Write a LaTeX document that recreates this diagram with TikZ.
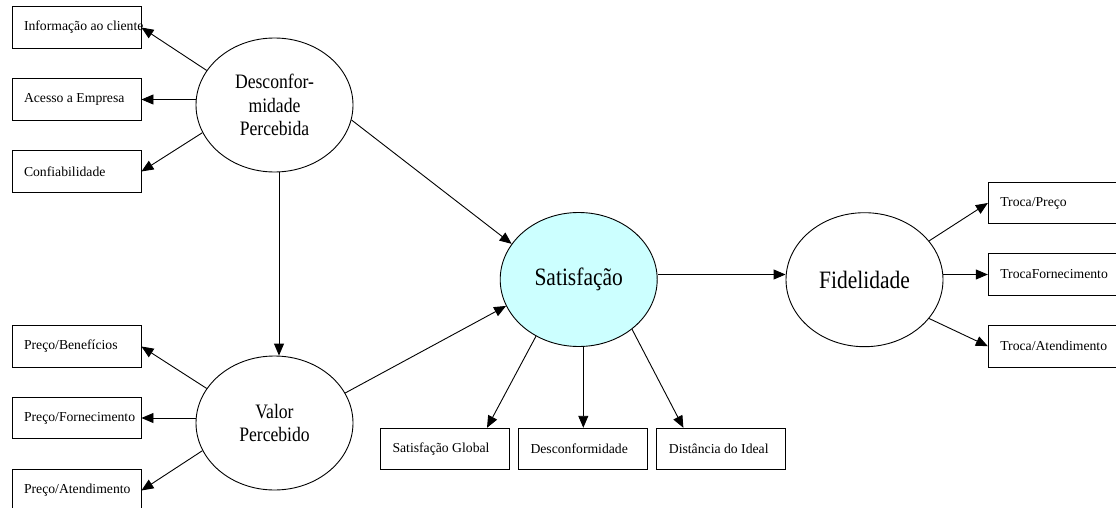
\documentclass[tikz,border=0pt]{standalone}
\usepackage{fontspec}
\setmainfont{Liberation Serif}
\newfontfamily\condserif[FakeStretch=0.86]{Liberation Serif}
\usetikzlibrary{shapes.geometric,arrows.meta}
\definecolor{satfill}{RGB}{204,255,255}
\tikzset{
  boxnode/.style={draw, line width=0.9pt, rectangle, minimum width=129pt, minimum height=41.5pt,
    inner xsep=12pt, inner ysep=0pt, font=\fontsize{13.7}{16}\selectfont},
  latent/.style={draw, line width=0.9pt, ellipse, minimum width=157pt, minimum height=134pt,
    inner sep=0pt, align=center, font=\condserif\fontsize{20.5}{23.5}\selectfont},
  biglatent/.style={latent, font=\condserif\fontsize{25}{28}\selectfont},
  arr/.style={line width=0.9pt, -{Triangle[length=12pt,width=10pt]}}
}
\newcommand{\bx}[1]{\makebox[105pt][l]{#1}}
\begin{document}
\begin{tikzpicture}[x=1pt,y=-1pt]
\useasboundingbox (0,0) rectangle (1116,508);
% latent variables
\node[latent] (D) at (274.5,105) {Desconfor-\\midade\\Percebida};
\node[latent] (V) at (274.5,423) {Valor\\Percebido};
\node[biglatent, fill=satfill] (S) at (578.7,279.5) {Satisfação};
\node[biglatent] (F) at (864.5,279.7) {Fidelidade};
% indicators
\node[boxnode] (b1) at (76.5,27.5) {\bx{Informação ao cliente}};
\node[boxnode] (b2) at (76.5,99.5) {\bx{Acesso a Empresa}};
\node[boxnode] (b3) at (76.5,171.5) {\bx{Confiabilidade}};
\node[boxnode] (p1) at (76.5,346.5) {\bx{Preço/Benefícios}};
\node[boxnode] (p2) at (76.5,418) {\bx{Preço/Fornecimento}};
\node[boxnode] (p3) at (76.5,490.5) {\bx{Preço/Atendimento}};
\node[boxnode] (s1) at (445,449) {\bx{Satisfação Global}};
\node[boxnode] (s2) at (583,449) {\bx{Desconformidade}};
\node[boxnode] (s3) at (721.4,449) {\bx{Distância do Ideal}};
\node[boxnode] (t1) at (1052.8,203) {\bx{Troca/Preço}};
\node[boxnode] (t2) at (1052.8,274.5) {\bx{TrocaFornecimento}};
\node[boxnode] (t3) at (1052.8,346.2) {\bx{Troca/Atendimento}};
% connectors
\draw[arr] (D.153) -- (b1.east);
\draw[arr] (D.west |- b2) -- (b2.east);
\draw[arr] (D.201) -- (b3.east);
\draw[arr] (V.153) -- (p1.east);
\draw[arr] (V.west |- p2) -- (p2.east);
\draw[arr] (V.201) -- (p3.east);
\draw[arr] ([xshift=4.5pt]D.south) -- ([xshift=4.5pt]V.north);
\draw[arr] (D.349) -- (S.152);
\draw[arr] (V.23.6) -- (S.200.5);
\draw[arr] (S.233.7) -- ([xshift=42pt]s1.north);
\draw[arr] ([xshift=4.6pt]S.south) -- ([xshift=4.6pt]S.south |- s2.north);
\draw[arr] (S.317.6) -- ([xshift=-38pt]s3.north);
\draw[arr] (S.east |- t2) -- (F.west |- t2);
\draw[arr] (F.31) -- (t1.west);
\draw[arr] (F.east |- t2) -- (t2.west);
\draw[arr] (F.329) -- (t3.west);
\end{tikzpicture}
\end{document}
